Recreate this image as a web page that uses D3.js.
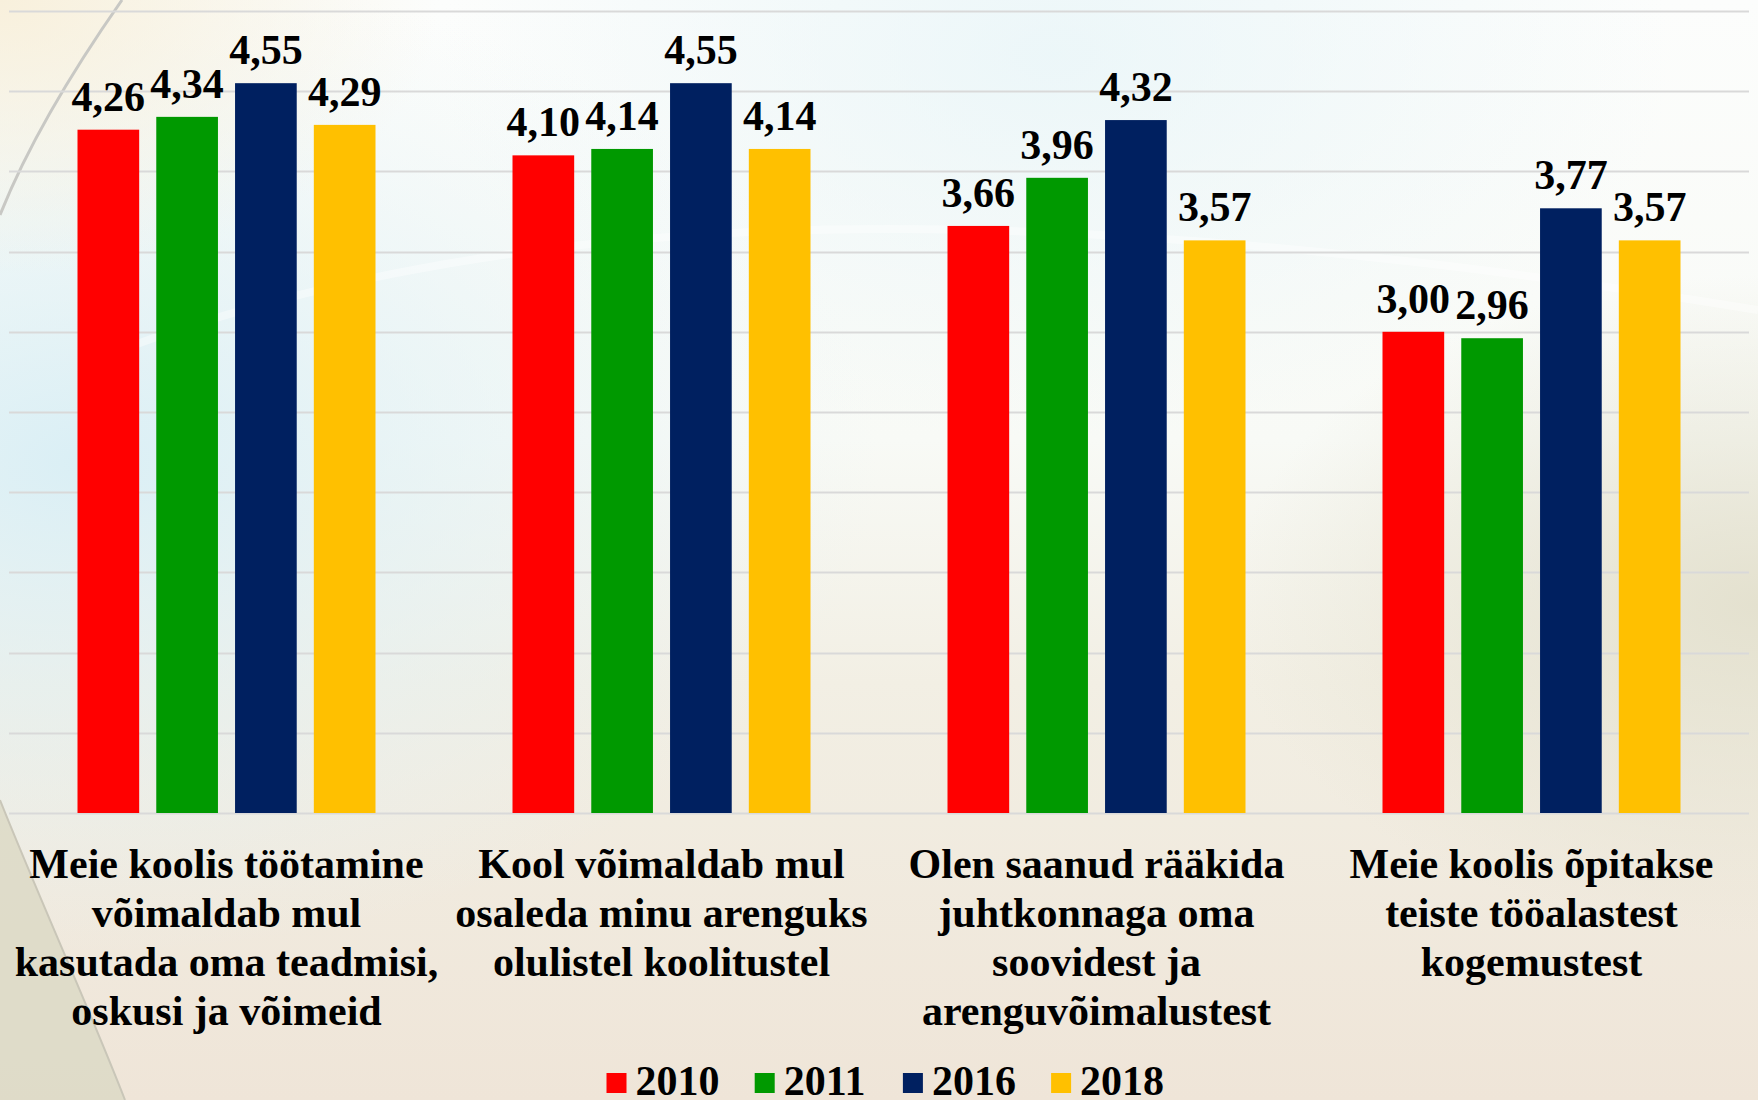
<!DOCTYPE html>
<html>
<head>
<meta charset="utf-8">
<script src="https://cdn.jsdelivr.net/npm/d3@7"></script>
<style>
  html, body { margin: 0; padding: 0; background: #f3efe6; }
  svg { display: block; }
  text { font-family: "Liberation Serif", "Times New Roman", serif; font-weight: bold; fill: #000; }
</style>
</head>
<body>
<svg id="chart" width="1758" height="1100"></svg>
<script>
const categories = [
  ["Meie koolis töötamine", "võimaldab mul", "kasutada oma teadmisi,", "oskusi ja võimeid"],
  ["Kool võimaldab mul", "osaleda minu arenguks", "olulistel koolitustel"],
  ["Olen saanud rääkida", "juhtkonnaga oma", "soovidest ja", "arenguvõimalustest"],
  ["Meie koolis õpitakse", "teiste tööalastest", "kogemustest"]
];
const categoryKeys = ["c1", "c2", "c3", "c4"];
const series = ["2010", "2011", "2016", "2018"];
const colors = ["#ff0000", "#009900", "#002060", "#ffc000"];
const values2010 = [4.26, 4.10, 3.66, 3.00];
const values2011 = [4.34, 4.14, 3.96, 2.96];
const values2016 = [4.55, 4.55, 4.32, 3.77];
const values2018 = [4.29, 4.14, 3.57, 3.57];
const yTicks = [0, 0.5, 1, 1.5, 2, 2.5, 3, 3.5, 4, 4.5, 5];

const seriesValues = [values2010, values2011, values2016, values2018];
const fmt = v => v.toFixed(2).replace(".", ",");

const svg = d3.select("#chart");
const W = 1758, H = 1100;

// ---------- background ----------
const defs = svg.append("defs");
const bg = defs.append("linearGradient").attr("id", "bg").attr("x1", 0).attr("y1", 0).attr("x2", 0).attr("y2", 1);
bg.append("stop").attr("offset", "0%").attr("stop-color", "#fcfdfc");
bg.append("stop").attr("offset", "40%").attr("stop-color", "#f8faf6");
bg.append("stop").attr("offset", "62%").attr("stop-color", "#f2efe4");
bg.append("stop").attr("offset", "100%").attr("stop-color", "#efe5d8");

const blue = defs.append("radialGradient").attr("id", "blue").attr("cx", 0.05).attr("cy", 0.42).attr("r", 0.45);
blue.append("stop").attr("offset", "0%").attr("stop-color", "#d8eef5").attr("stop-opacity", 0.95);
blue.append("stop").attr("offset", "100%").attr("stop-color", "#e6f3f6").attr("stop-opacity", 0);

const warmTop = defs.append("radialGradient").attr("id", "warmTop").attr("cx", 0).attr("cy", 0).attr("r", 0.25);
warmTop.append("stop").attr("offset", "0%").attr("stop-color", "#f8f0dc").attr("stop-opacity", 1);
warmTop.append("stop").attr("offset", "100%").attr("stop-color", "#f8f0dc").attr("stop-opacity", 0);

const rightTint = defs.append("radialGradient").attr("id", "rightTint").attr("cx", 1).attr("cy", 0.55).attr("r", 0.3);
rightTint.append("stop").attr("offset", "0%").attr("stop-color", "#e2dfcc").attr("stop-opacity", 0.9);
rightTint.append("stop").attr("offset", "100%").attr("stop-color", "#e2dfcc").attr("stop-opacity", 0);

const topBlue = defs.append("radialGradient").attr("id", "topBlue").attr("cx", 0.6).attr("cy", 0.05).attr("r", 0.35);
topBlue.append("stop").attr("offset", "0%").attr("stop-color", "#e8f5f8").attr("stop-opacity", 0.8);
topBlue.append("stop").attr("offset", "100%").attr("stop-color", "#e8f5f8").attr("stop-opacity", 0);

svg.append("rect").attr("width", W).attr("height", H).attr("fill", "url(#bg)");
svg.append("rect").attr("width", W).attr("height", H).attr("fill", "url(#topBlue)");
svg.append("rect").attr("width", W).attr("height", H).attr("fill", "url(#blue)");
svg.append("rect").attr("width", W).attr("height", H).attr("fill", "url(#warmTop)");
svg.append("rect").attr("width", W).attr("height", H).attr("fill", "url(#rightTint)");

// faint light arc streak
svg.append("path")
  .attr("d", "M120,350 C450,230 900,170 1758,310")
  .attr("fill", "none").attr("stroke", "#ffffff").attr("stroke-opacity", 0.4).attr("stroke-width", 8);
// bottom-left darker region
svg.append("path")
  .attr("d", "M0,800 C40,900 90,1010 125,1100 L0,1100 Z")
  .attr("fill", "#dcd9c6").attr("opacity", 0.85);
svg.append("path")
  .attr("d", "M0,800 C40,900 90,1010 125,1100")
  .attr("fill", "none").attr("stroke", "#c9c6b8").attr("stroke-width", 2);
// top-left arc
svg.append("path")
  .attr("d", "M122,0 C80,60 30,140 0,215")
  .attr("fill", "none").attr("stroke", "#c8c8c4").attr("stroke-width", 3);

// ---------- scales ----------
const x0 = d3.scaleBand().domain(categoryKeys).range([9, 1749]).padding(0);
const x1 = d3.scaleBand().domain(series).range([68.5, 366.5]).paddingInner(0.217).paddingOuter(0);
const y = d3.scaleLinear().domain([0, 5]).range([813, 11]);

// gridlines
svg.append("g").selectAll("line").data(yTicks).join("line")
  .attr("x1", 9).attr("x2", 1749)
  .attr("y1", d => Math.round(y(d)) + 0.5).attr("y2", d => Math.round(y(d)) + 0.5)
  .attr("stroke", "#d9d9d9").attr("stroke-width", 2);

// bars
const rows = [];
categoryKeys.forEach((c, ci) => {
  series.forEach((s, si) => rows.push({ c, s, si, v: seriesValues[si][ci] }));
});

svg.append("g").selectAll("rect").data(rows).join("rect")
  .attr("x", d => x0(d.c) + x1(d.s))
  .attr("y", d => y(d.v))
  .attr("width", x1.bandwidth())
  .attr("height", d => y(0) - y(d.v))
  .attr("fill", d => colors[d.si]);

// value labels
svg.append("g").selectAll("text").data(rows).join("text")
  .attr("x", d => x0(d.c) + x1(d.s) + x1.bandwidth() / 2)
  .attr("y", d => y(d.v) - 19)
  .attr("text-anchor", "middle")
  .style("font-size", "42px")
  .text(d => fmt(d.v));

// category labels
const gCat = svg.append("g");
categoryKeys.forEach((c, ci) => {
  const cx = x0(c) + x0.bandwidth() / 2;
  const t = gCat.append("text")
    .attr("x", cx)
    .attr("y", 878)
    .attr("text-anchor", "middle")
    .style("font-size", "42px");
  categories[ci].forEach((line, li) => {
    t.append("tspan").attr("x", cx).attr("y", 878 + li * 49).text(line);
  });
});

// legend
const lx = d3.scaleBand().domain(series).range([606.5, 606.5 + 148.2 * 4]);
const gLeg = svg.append("g").selectAll("g").data(series).join("g")
  .attr("transform", d => `translate(${lx(d)},0)`);
gLeg.append("rect").attr("x", 0).attr("y", 1073).attr("width", 20).attr("height", 20)
  .attr("fill", (d, i) => colors[i]);
gLeg.append("text").attr("x", 29).attr("y", 1095).style("font-size", "42px").text(d => d);
</script>
</body>
</html>
